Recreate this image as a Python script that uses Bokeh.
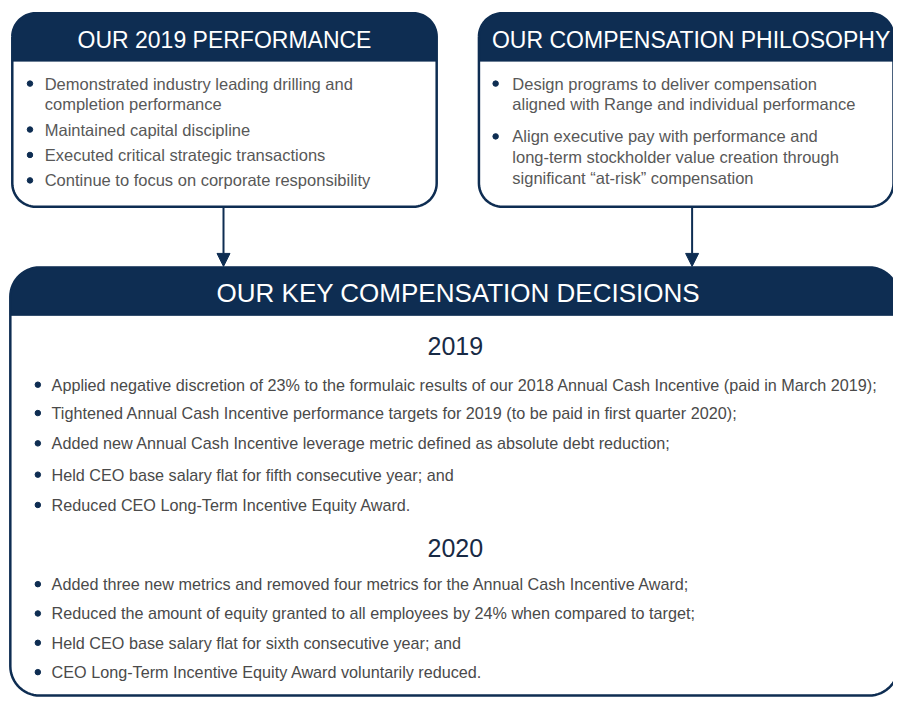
import numpy as np
from bokeh.plotting import figure
from bokeh.models import Range1d, Arrow, NormalHead
from bokeh.core.properties import value
from bokeh.embed import file_html
from bokeh.resources import INLINE

# ---------------- content ----------------
perf_title = "OUR 2019 PERFORMANCE"
perf_lines = ["Demonstrated industry leading drilling and",
              "completion performance",
              "Maintained capital discipline",
              "Executed critical strategic transactions",
              "Continue to focus on corporate responsibility"]
perf_bullet = [True, False, True, True, True]

phil_title = "OUR COMPENSATION PHILOSOPHY"
phil_lines = ["Design programs to deliver compensation",
              "aligned with Range and individual performance",
              "Align executive pay with performance and",
              "long-term stockholder value creation through",
              "significant \u201cat-risk\u201d compensation"]
phil_bullet = [True, False, True, False, False]

dec_title = "OUR KEY COMPENSATION DECISIONS"
year_labels = ["2019", "2020"]
dec_2019 = ["Applied negative discretion of 23% to the formulaic results of our 2018 Annual Cash Incentive (paid in March 2019);",
            "Tightened Annual Cash Incentive performance targets for 2019 (to be paid in first quarter 2020);",
            "Added new Annual Cash Incentive leverage metric defined as absolute debt reduction;",
            "Held CEO base salary flat for fifth consecutive year; and",
            "Reduced CEO Long-Term Incentive Equity Award."]
dec_2020 = ["Added three new metrics and removed four metrics for the Annual Cash Incentive Award;",
            "Reduced the amount of equity granted to all employees by 24% when compared to target;",
            "Held CEO base salary flat for sixth consecutive year; and",
            "CEO Long-Term Incentive Equity Award voluntarily reduced."]

# ---------------- layout (reference pixel coordinates, y downward) ----------------
NAVY = "#0e2d52"
GRAY = "#585858"
GRAY2 = "#4a4a4a"
YEARC = "#182a45"
SANS = "Liberation Sans"

perf_y = [85, 106, 132, 158, 184]
phil_y = [85, 106, 139, 160, 182]
y2019 = [393, 422, 453, 485, 516]
y2020 = [597, 627, 657, 687]
year_y = [353, 560]


def rpath(x0, y0, x1, y1, rtl, rtr, rbr, rbl, n=16):
    xs, ys = [], []

    def arc(cx, cy, r, a0, a1):
        if r <= 0:
            xs.append(cx); ys.append(cy); return
        t = np.radians(np.linspace(a0, a1, n))
        xs.extend(cx + r * np.cos(t)); ys.extend(cy + r * np.sin(t))

    arc(x0 + rtl, y0 + rtl, rtl, 180, 270)
    arc(x1 - rtr, y0 + rtr, rtr, 270, 360)
    arc(x1 - rbr, y1 - rbr, rbr, 0, 90)
    arc(x0 + rbl, y1 - rbl, rbl, 90, 180)
    xs.append(xs[0]); ys.append(ys[0])
    return list(xs), list(ys)


W, H = 893, 699
p = figure(width=W, height=H, output_backend="svg", toolbar_location=None,
           x_range=Range1d(0, 909), y_range=Range1d(715, 0),
           min_border=0, outline_line_color=None, background_fill_color="white")
p.axis.visible = False
p.grid.visible = False


def box(x0, y0, x1, y1, hb, r):
    bx, by = rpath(x0, y0, x1, y1, r, r, r, r)
    p.patch(bx, by, fill_color="white", line_color=None)
    hx, hy = rpath(x0, y0, x1, hb, r, r, 0, 0)
    p.patch(hx, hy, fill_color=NAVY, line_color=NAVY, line_width=1)
    p.line(bx, by, line_color=NAVY, line_width=2.5)


box(12, 13, 444, 211, 62, 24)
box(487, 13, 909, 211, 62, 24)
box(10, 273, 914, 711, 322, 30)

# arrows
for ax in (227, 704):
    p.add_layout(Arrow(end=NormalHead(size=13, fill_color=NAVY, line_color=NAVY),
                       x_start=ax, y_start=211, x_end=ax, y_end=272,
                       line_color=NAVY, line_width=2))

# titles
p.text(x=[228], y=[40], text=[perf_title], text_font=value(SANS), text_font_size="23px",
       text_color="white", text_align="center", text_baseline="middle")
p.text(x=[703], y=[40], text=[phil_title], text_font=value(SANS), text_font_size="23px",
       text_color="white", text_align="center", text_baseline="middle")
p.text(x=[466], y=[299], text=[dec_title], text_font=value(SANS), text_font_size="26px",
       text_color="white", text_align="center", text_baseline="middle")


def bullets(lines, ys, flags, xb, xt, size, color):
    p.text(x=[xt] * len(lines), y=ys, text=lines, text_font=value(SANS),
           text_font_size=size, text_color=color, text_baseline="middle")
    bx = [xb for f in flags if f]
    by = [y for y, f in zip(ys, flags) if f]
    p.scatter(bx, by, marker="circle", size=5.5, fill_color=NAVY, line_color=NAVY)


bullets(perf_lines, perf_y, perf_bullet, 30, 45, "16.5px", GRAY)
bullets(phil_lines, phil_y, phil_bullet, 504, 521, "16.5px", GRAY)
bullets(dec_2019, y2019, [True] * len(dec_2019), 38, 52, "16.2px", GRAY2)
bullets(dec_2020, y2020, [True] * len(dec_2020), 38, 52, "16.2px", GRAY2)

p.text(x=[463, 463], y=year_y, text=year_labels, text_font=value(SANS), text_font_size="25px",
       text_color=YEARC, text_align="center", text_baseline="middle")

open("out.html", "w").write(file_html(p, INLINE))
